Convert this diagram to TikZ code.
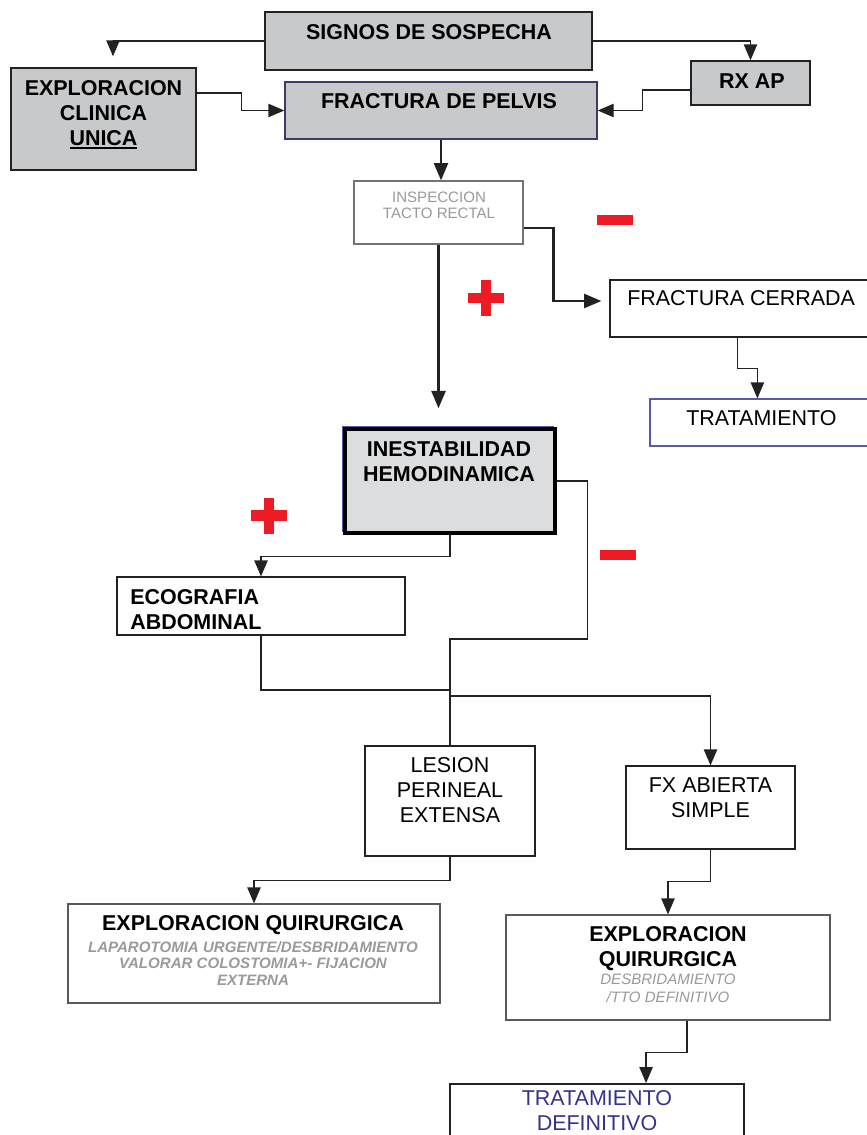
\documentclass[tikz,border=0pt]{standalone}
\usepackage{fontspec}
\setmainfont{Liberation Sans}
\usetikzlibrary{arrows.meta,calc,fit}
\definecolor{boxgray}{HTML}{C8C9CB}
\definecolor{lightbox}{HTML}{DCDDDF}
\definecolor{txtgray}{HTML}{9A9A9A}
\definecolor{navytxt}{HTML}{34348F}
\definecolor{outlineblue}{HTML}{5A5AA8}
\definecolor{fracborder}{HTML}{3D3A6B}
\definecolor{redmark}{HTML}{ED1C24}
\definecolor{linec}{HTML}{222222}
\newcommand\bigf{\fontsize{16.1pt}{18.75pt}\selectfont}
\newcommand\smallf{\fontsize{11.3pt}{12pt}\selectfont}
\newcommand\thickul[1]{\setbox0=\hbox{#1}\rlap{\rule[-3pt]{\wd0}{1.8pt}}\box0}
\begin{document}
\begin{tikzpicture}[x=0.75pt,y=-0.75pt,
  graybox/.style={draw=linec, line width=1pt, fill=boxgray, inner sep=0pt},
  whitebox/.style={draw=linec, line width=0.9pt, fill=white, inner sep=0pt},
  lbl/.style={inner sep=0pt, align=center, font=\bigf, anchor=north},
  conn/.style={draw=linec, line width=1pt, -{Triangle[length=12pt,width=10pt]}},
  thickconn/.style={draw=linec, line width=1.8pt, -{Triangle[length=13pt,width=10.5pt]}},
  plain/.style={draw=linec, line width=1pt},
  redsign/.style={fill=redmark}]
\useasboundingbox (0,0) rectangle (867,1135);
\fill[white] (0,0) rectangle (867,1135);

% boxes
\node[graybox, fit={(265,12) (592,70)}] (signos) {};
\node[lbl] (tsignos) at (429,24) {\bfseries SIGNOS DE SOSPECHA};

\node[graybox, fit={(11,68) (196,170)}] (explor) {};
\node[lbl] (texplor) at (103.5,80) {\bfseries EXPLORACION\\ \bfseries CLINICA\\ \bfseries\thickul{UNICA}};

\node[graybox, draw=fracborder, fit={(285,82) (597,139)}] (fract) {};
\node[lbl] (tfract) at (439,93) {\bfseries FRACTURA DE PELVIS};

\node[graybox, fit={(691,61) (810,105)}] (rxap) {};
\node[lbl] (trxap) at (752,73) {\bfseries RX AP};

\node[whitebox, draw=black!55, fit={(354,181) (523,244)}] (insp) {};
\node[lbl, font=\smallf, text=txtgray] (tinsp) at (439,192) {INSPECCION\\TACTO RECTAL};

\node[whitebox, fit={(610,280) (885,337)}] (cerr) {};
\node[lbl, anchor=north west] (tcerr) at (627,290) {FRACTURA CERRADA};

\node[whitebox, draw=outlineblue, fit={(650,399) (885,446)}] (trat) {};
\node[lbl] (ttrat) at (761.5,410) {TRATAMIENTO};

\draw[draw=outlineblue, line width=2pt] (343,427) rectangle (553,531);
\node[fill=lightbox, draw=black, line width=2.6pt, inner sep=0pt, fit={(345,429) (555,533)}] (inest) {};
\node[lbl] (tinest) at (449,441) {\bfseries INESTABILIDAD\\ \bfseries HEMODINAMICA};

\node[whitebox, fit={(117,577) (405,635)}] (eco) {};
\node[lbl, anchor=north west, align=left] (teco) at (130,589) {\bfseries ECOGRAFIA\\ \bfseries ABDOMINAL};

\node[whitebox, fit={(365,746) (535,856)}] (lesion) {};
\node[lbl] (tlesion) at (450,757) {LESION\\PERINEAL\\EXTENSA};

\node[whitebox, fit={(626,766) (795,849)}] (fx) {};
\node[lbl] (tfx) at (710.5,777) {FX ABIERTA\\SIMPLE};

\node[whitebox, draw=black!65, fit={(68,904) (440,1003)}] (eql) {};
\node[lbl] (teql) at (253,915) {\bfseries EXPLORACION QUIRURGICA};
\node[lbl, font=\fontsize{11.3pt}{12.4pt}\selectfont\bfseries\itshape, text=txtgray] (seql) at (253,941) {LAPAROTOMIA URGENTE/DESBRIDAMIENTO\\VALORAR COLOSTOMIA+- FIJACION\\EXTERNA};

\node[whitebox, draw=black!65, fit={(506,915) (830,1020)}] (eqr) {};
\node[lbl] (teqr) at (668,926) {\bfseries EXPLORACION\\ \bfseries QUIRURGICA};
\node[lbl, font=\fontsize{11.3pt}{13.5pt}\selectfont\itshape, text=txtgray] (seqr) at (668,974) {DESBRIDAMIENTO\\/TTO DEFINITIVO};

\node[whitebox, draw=linec, line width=1.4pt, fit={(450,1084) (744,1160)}] (td) {};
\node[lbl, text=navytxt] (ttd) at (597,1090) {TRATAMIENTO\\DEFINITIVO};

% connectors
\draw[conn] (signos.west) -| ($(explor.north)+(9.5,-11)$);
\draw[conn] (signos.east) -| (rxap.north);
\draw[conn] ($(explor.east)+(0,-26)$) -- ++(45,0) |- (fract.west);
\draw[conn] ($(rxap.west)+(0,7)$) -- ++(-48,0) |- (fract.east);
\draw[thickconn] (fract.south) -- (fract.south |- insp.north);
\draw[thickconn] (insp.south) -- ($(insp.south |- inest.north)+(0,-19)$);
\draw[thickconn] ($(insp.east)+(0,15.5)$) -- ++(30,0) |- ($(cerr.west)+(-8,-7.5)$);
\draw[conn] ($(cerr.south west)+(128,0)$) -- ++(0,31) -| ($(trat.north west)+(108,0)$);
\draw[plain] (inest.east) -- ++(31,0) -- ++(0,158) -| (lesion.north);
\draw[conn] (inest.south) -- ++(0,22) -| (eco.north);
\draw[plain] (eco.south) |- (lesion.north |- 0,690);
\coordinate (j1) at (450,696);
\draw[conn] (j1) -| (fx.north);
\draw[conn] (lesion.south) -- ++(0,24) -| (eql.north);
\draw[conn] (fx.south) -- ++(0,32) -| (eqr.north);
\draw[conn] ($(eqr.south)+(19,0)$) -- ++(0,32) -| ($(td.north west)+(197,0)$);

% red signs
\fill[redsign] (597,215) rectangle (633,225);
\fill[redsign] (468,293) rectangle (504,303);
\fill[redsign] (481,280) rectangle (491,316);
\fill[redsign] (251,510) rectangle (287,521);
\fill[redsign] (264,498) rectangle (274,534);
\fill[redsign] (600,550) rectangle (636,560);
\end{tikzpicture}
\end{document}
